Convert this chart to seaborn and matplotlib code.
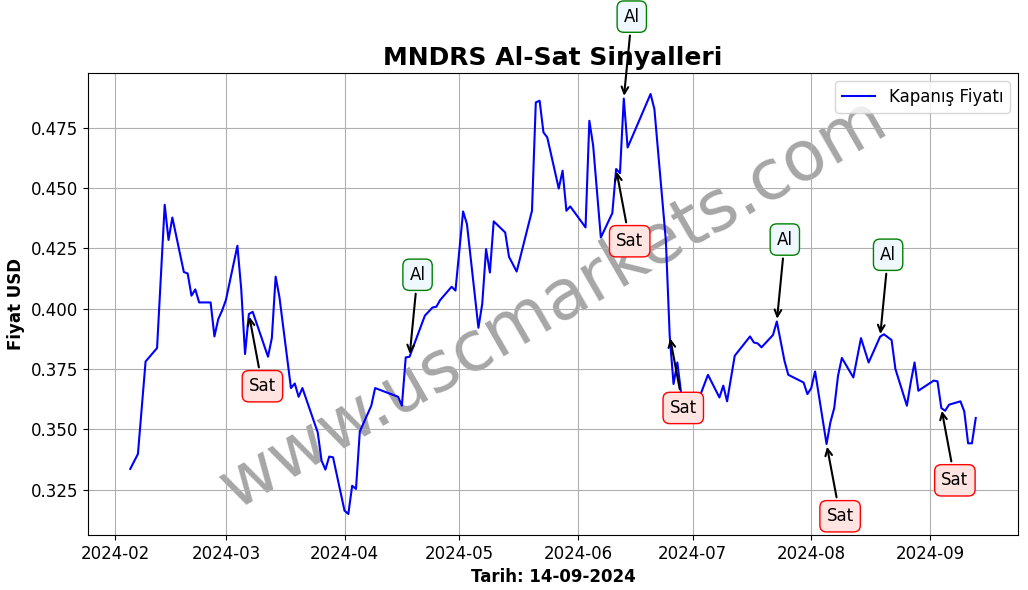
import pandas as pd
import matplotlib
matplotlib.use('Agg')
import matplotlib.pyplot as plt
import matplotlib.dates as mdates
import seaborn as sns

# kapanis fiyatlari
dates = [
    '2024-02-05', '2024-02-07', '2024-02-09', '2024-02-12', '2024-02-14', '2024-02-15',
    '2024-02-16', '2024-02-19', '2024-02-20', '2024-02-21', '2024-02-22', '2024-02-23',
    '2024-02-26', '2024-02-27', '2024-02-28', '2024-02-29', '2024-03-01', '2024-03-04',
    '2024-03-05', '2024-03-06', '2024-03-07', '2024-03-08', '2024-03-12', '2024-03-13',
    '2024-03-14', '2024-03-15', '2024-03-18', '2024-03-19', '2024-03-20', '2024-03-21',
    '2024-03-25', '2024-03-26', '2024-03-27', '2024-03-28', '2024-03-29', '2024-04-01',
    '2024-04-02', '2024-04-03', '2024-04-04', '2024-04-05', '2024-04-08', '2024-04-09',
    '2024-04-15', '2024-04-16', '2024-04-17', '2024-04-18', '2024-04-22', '2024-04-24',
    '2024-04-25', '2024-04-26', '2024-04-29', '2024-04-30', '2024-05-02', '2024-05-03',
    '2024-05-06', '2024-05-07', '2024-05-08', '2024-05-09', '2024-05-10', '2024-05-13',
    '2024-05-14', '2024-05-16', '2024-05-20', '2024-05-21', '2024-05-22', '2024-05-23',
    '2024-05-24', '2024-05-27', '2024-05-28', '2024-05-29', '2024-05-30', '2024-06-03',
    '2024-06-04', '2024-06-05', '2024-06-07', '2024-06-10', '2024-06-11', '2024-06-12',
    '2024-06-13', '2024-06-14', '2024-06-20', '2024-06-21', '2024-06-24', '2024-06-25',
    '2024-06-26', '2024-06-27', '2024-06-28', '2024-07-01', '2024-07-02', '2024-07-03',
    '2024-07-05', '2024-07-08',
    '2024-07-09', '2024-07-10', '2024-07-12', '2024-07-16', '2024-07-17', '2024-07-18',
    '2024-07-19', '2024-07-22', '2024-07-23', '2024-07-25', '2024-07-26', '2024-07-30',
    '2024-07-31', '2024-08-01', '2024-08-02', '2024-08-05', '2024-08-06', '2024-08-07',
    '2024-08-08', '2024-08-09', '2024-08-12', '2024-08-14', '2024-08-16', '2024-08-19',
    '2024-08-20', '2024-08-21', '2024-08-22', '2024-08-23', '2024-08-26', '2024-08-27',
    '2024-08-28', '2024-08-29', '2024-09-02', '2024-09-03', '2024-09-04', '2024-09-05',
    '2024-09-06', '2024-09-09', '2024-09-10', '2024-09-11', '2024-09-12', '2024-09-13',
]
close = [
    0.3336, 0.3398, 0.3781, 0.3837, 0.4431, 0.4285,
    0.4378, 0.4152, 0.4146, 0.4054, 0.4080, 0.4026,
    0.4026, 0.3885, 0.3957, 0.3992, 0.4036, 0.4261,
    0.4082, 0.3812, 0.3978, 0.3987, 0.3801, 0.3878,
    0.4133, 0.4047, 0.3671, 0.3690, 0.3635, 0.3671,
    0.3487, 0.3370, 0.3333, 0.3387, 0.3384, 0.3163,
    0.3149, 0.3266, 0.3253, 0.3491, 0.3598, 0.3671,
    0.3635, 0.3598, 0.3798, 0.3801, 0.3971, 0.4005,
    0.4008, 0.4036, 0.4091, 0.4075, 0.4403, 0.4351,
    0.3921, 0.4020, 0.4247, 0.4150, 0.4362, 0.4316,
    0.4215, 0.4154, 0.4406, 0.4855, 0.4862, 0.4731,
    0.4710, 0.4498, 0.4572, 0.4406, 0.4424, 0.4337,
    0.4779, 0.4675, 0.4295, 0.4396, 0.4579, 0.4562,
    0.4871, 0.4668, 0.4890, 0.4827, 0.4282, 0.3888,
    0.3688, 0.3777, 0.3648, 0.3625, 0.3630, 0.3642,
    0.3726, 0.3632,
    0.3681, 0.3616, 0.3805, 0.3885, 0.3860, 0.3856,
    0.3840, 0.3891, 0.3947, 0.3784, 0.3726, 0.3694,
    0.3646, 0.3671, 0.3740, 0.3439, 0.3529, 0.3588,
    0.3722, 0.3796, 0.3715, 0.3878, 0.3777, 0.3884,
    0.3894, 0.3882, 0.3870, 0.3750, 0.3598, 0.3694,
    0.3777, 0.3660, 0.3702, 0.3699, 0.3588, 0.3577,
    0.3602, 0.3616, 0.3574, 0.3442, 0.3442, 0.3547,
]

# sinyal tarihleri
al_dates = ['2024-04-18', '2024-06-13', '2024-07-23', '2024-08-19']
sat_dates = ['2024-03-07', '2024-06-11', '2024-06-25', '2024-08-05', '2024-09-04']

df = pd.DataFrame({'Tarih': pd.to_datetime(dates), 'Fiyat': close})
price = df.set_index('Tarih')['Fiyat']

plt.rcParams['font.size'] = 12
fig, ax = plt.subplots(figsize=(10.28, 5.9), dpi=100)
fig.subplots_adjust(left=0.0856, right=0.9903, top=0.8763, bottom=0.0932)

sns.lineplot(data=df, x='Tarih', y='Fiyat', color='blue', linewidth=1.5,
             label='Kapanış Fiyatı', ax=ax)

for d in al_dates:
    t = pd.Timestamp(d)
    ax.annotate('Al', xy=(mdates.date2num(t), price[t]), xytext=(0, 59),
                textcoords='offset points', ha='left', va='center',
                arrowprops=dict(arrowstyle='->', color='black', lw=1.5),
                bbox=dict(boxstyle='round,pad=0.4', fc='aliceblue', ec='green'))

for d in sat_dates:
    t = pd.Timestamp(d)
    ax.annotate('Sat', xy=(mdates.date2num(t), price[t]), xytext=(0, -52),
                textcoords='offset points', ha='left', va='center',
                arrowprops=dict(arrowstyle='->', color='black', lw=1.5),
                bbox=dict(boxstyle='round,pad=0.4', fc='mistyrose', ec='red'))

ax.text(0.5, 0.5, 'www.uscmarkets.com', transform=ax.transAxes, fontsize=50,
        color='gray', alpha=0.7, rotation=30, ha='center', va='center', zorder=1)

ax.xaxis.set_major_locator(mdates.MonthLocator())
ax.xaxis.set_major_formatter(mdates.DateFormatter('%Y-%m'))
ax.set_title('MNDRS Al-Sat Sinyalleri', fontsize=18, fontweight='bold')
ax.set_xlabel('Tarih: 14-09-2024', fontweight='bold')
ax.set_ylabel('Fiyat USD', fontweight='bold')
ax.grid(True)
ax.legend(loc='upper right')

fig.savefig('out.png', dpi=100)
